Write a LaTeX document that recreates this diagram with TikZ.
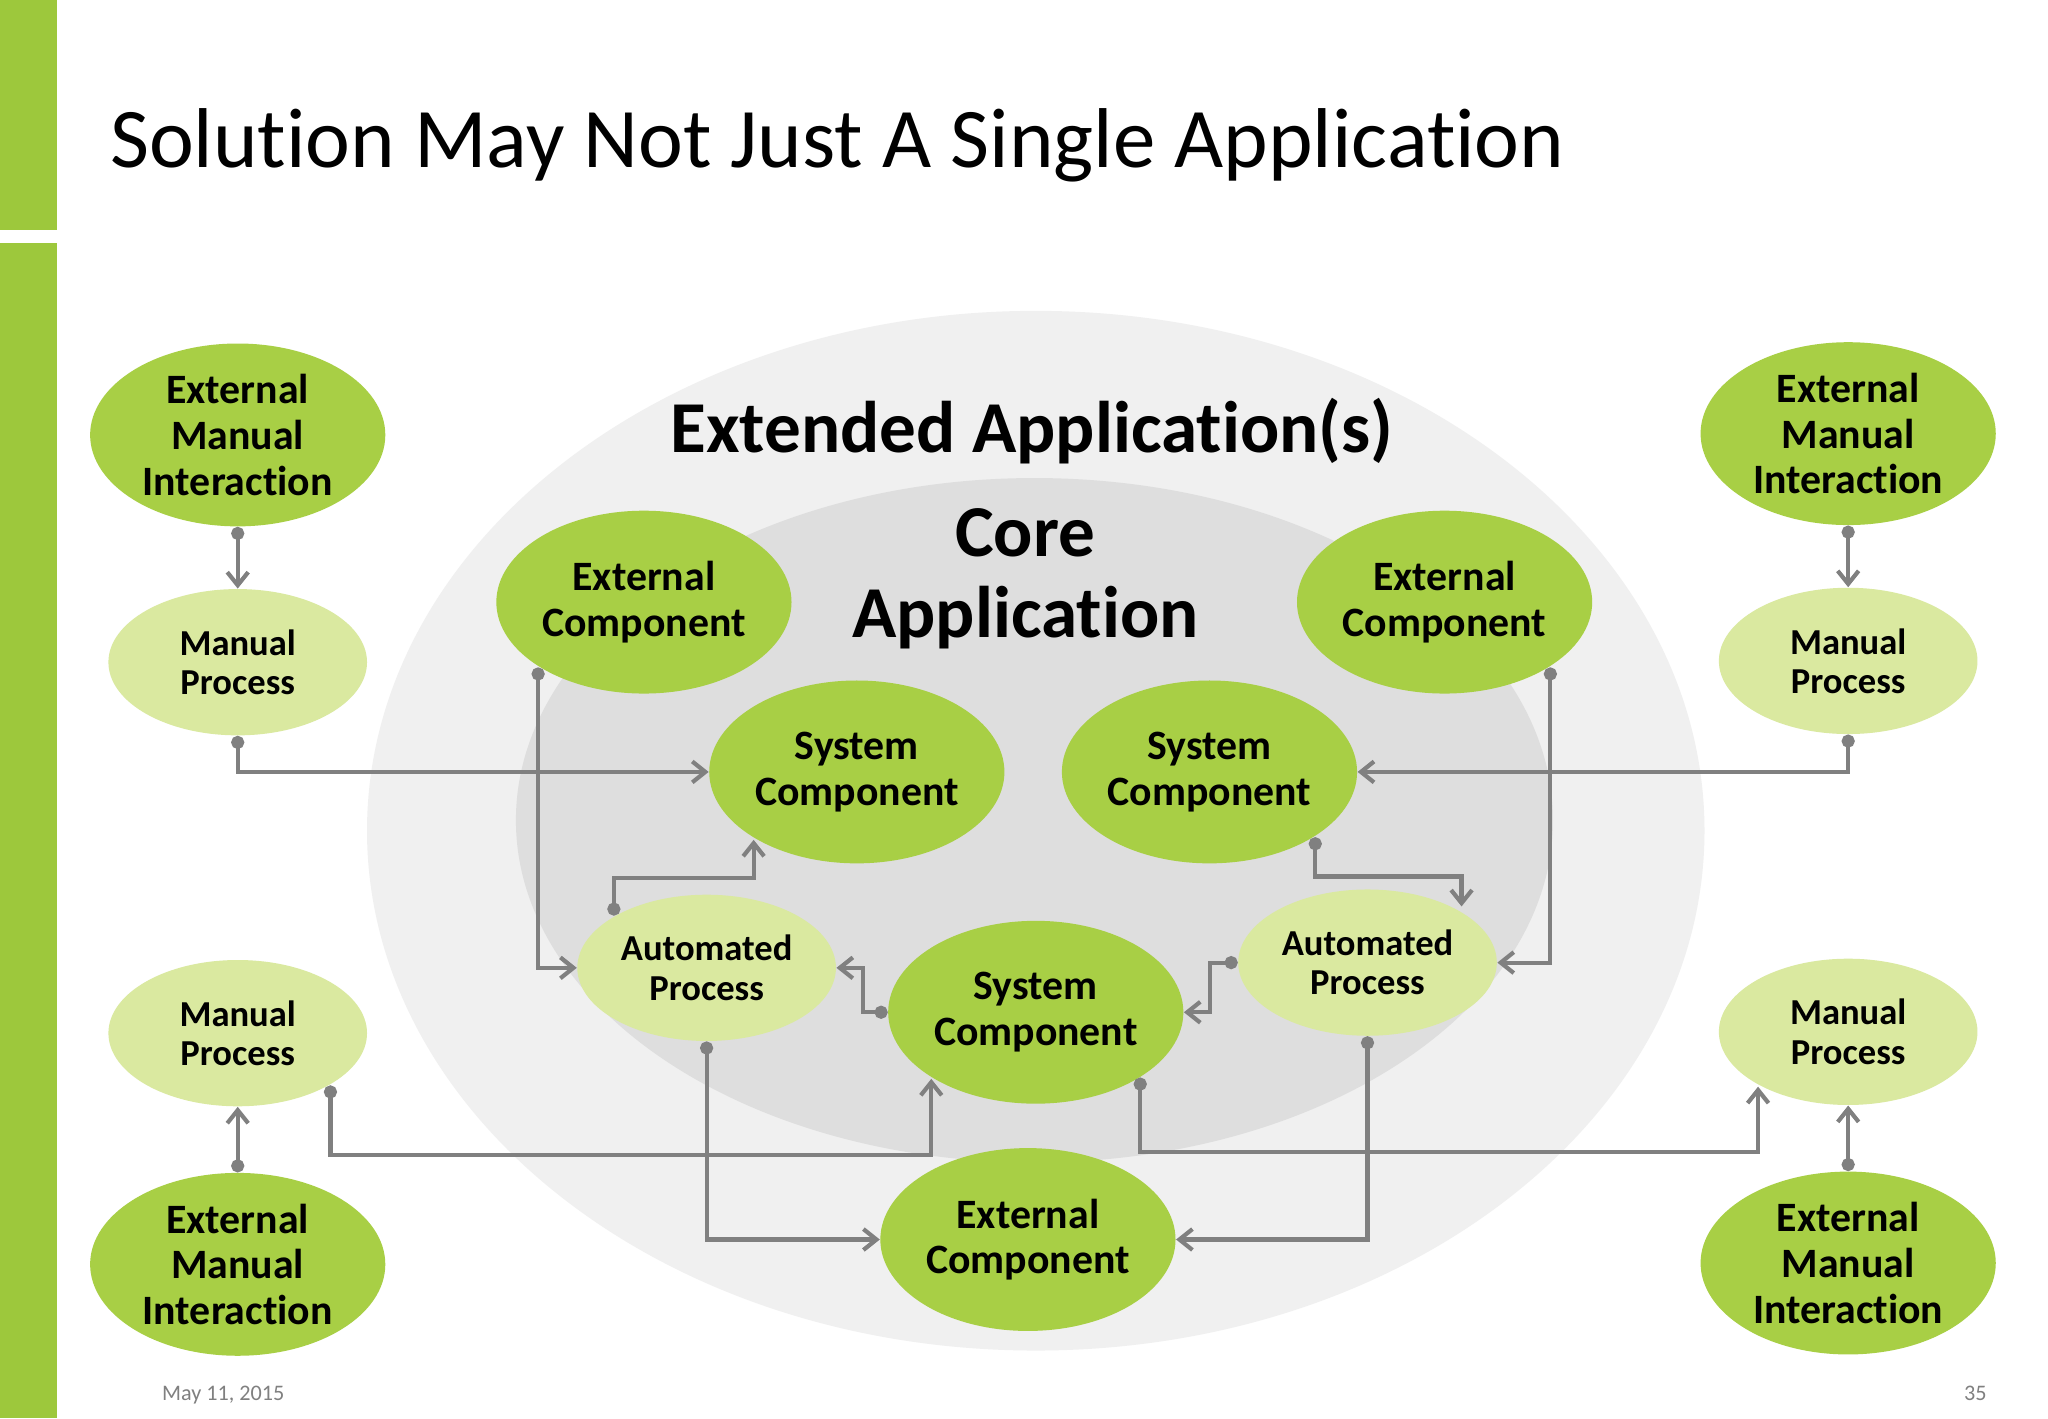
\documentclass[tikz,border=0pt]{standalone}
\usepackage{fontspec}
\setmainfont{Carlito}[RawFeature=-liga]
\usetikzlibrary{shapes.geometric,arrows.meta,calc}
\definecolor{bar}{RGB}{157,200,60}
\definecolor{dk}{RGB}{168,207,69}
\definecolor{lt}{RGB}{218,233,160}
\definecolor{ln}{RGB}{128,128,128}
\tikzset{
 big/.style={ellipse,fill=dk,minimum width=113pt,minimum height=70pt,inner sep=0pt,align=center,font=\fontsize{16}{17.5}\selectfont\bfseries},
 sm/.style={ellipse,fill=lt,minimum width=99pt,minimum height=56pt,inner sep=0pt,align=center,font=\fontsize{14}{15}\selectfont\bfseries},
 con/.style={draw=ln,line width=1.6pt,{Circle[length=5pt]}-{Straight Barb[length=5pt,width=8pt]}}
}
\begin{document}
\begin{tikzpicture}[x=0.5pt,y=-0.5pt]
\useasboundingbox (0,0) rectangle (1568,1086);
\fill[white] (0,0) rectangle (1568,1086);
\fill[bar] (0,0) rectangle (44,176);
\fill[bar] (0,186) rectangle (44,1086);
\node[anchor=base west,font=\fontsize{32.5}{36}\selectfont,inner sep=0] (title) at (84,128) {Solution May Not Just A Single Application};
\fill[black!6] (793,636) ellipse [x radius=512,y radius=398];
\fill[black!13] (792,628) ellipse [x radius=397,y radius=262];
\node[font=\fontsize{28}{30}\selectfont\bfseries] (ext) at (790,330) {Extended Application(s)};
\node[font=\fontsize{28}{31}\selectfont\bfseries,align=center] (core) at (785,443) {Core\\Application};
\node[big] (emitl) at (182,333) {External\\Manual\\Interaction};
\node[sm] (mptl) at (182,507) {Manual\\Process};
\node[big] (ecl) at (493,461) {External\\Component};
\node[big] (ecr) at (1106,461) {External\\Component};
\node[big] (emitr) at (1415,332) {External\\Manual\\Interaction};
\node[sm] (mptr) at (1415,506) {Manual\\Process};
\node[big] (sc1) at (656,591) {System\\Component};
\node[big] (sc2) at (926,591) {System\\Component};
\node[sm] (apl) at (541,741) {Automated\\Process};
\node[big] (sc3) at (793,775) {System\\Component};
\node[sm] (apr) at (1047,737) {Automated\\Process};
\node[sm] (mpbl) at (182,791) {Manual\\Process};
\node[big] (emibl) at (182,968) {External\\Manual\\Interaction};
\node[big] (ecb) at (787,949) {External\\Component};
\node[sm] (mpbr) at (1415,790) {Manual\\Process};
\node[big] (emibr) at (1415,967) {External\\Manual\\Interaction};
\node[font=\fontsize{8.5}{10}\selectfont,text=black!50,anchor=base west] (date) at (117,1072) {May 11, 2015};
\node[font=\fontsize{8.5}{10}\selectfont,text=black!50,anchor=base east] (pg) at (1528,1072) {35};
% connectors
\draw[con] (emitl.south) -- (mptl.north);
\draw[con] (mptl.south) |- (sc1.west);
\draw[con] ($(ecl)+(-81,50)$) |- (apl.west);
\draw[con] ($(apl)+(-71,-40)$) |- (577,672) -- ($(sc1)+(-79,52)$);
\draw[con] (sc3.west) -- ++(-19,0) |- (apl.east);
\draw[con] (apl.south) |- (ecb.west);
\draw[con] ($(mpbl)+(71,40)$) |- (713,884) -- ($(sc3)+(-80,51)$);
\draw[con] (emibl.north) -- (mpbl.south);
\draw[con] ($(sc2)+(81,50)$) |- (1119,671) -- ($(apr)+(72,-43)$);
\draw[con] ($(ecr)+(81,50)$) |- (apr.east);
\draw[con] (apr.west) -- ++(-21,0) |- (sc3.east);
\draw[con] (apr.south) |- (ecb.east);
\draw[con] ($(sc3)+(80,50)$) |- (1346,882) -- ($(mpbr)+(-69,42)$);
\draw[con] (mptr.south) |- (sc2.east);
\draw[con] (emitr.south) -- (mptr.north);
\draw[con] (emibr.north) -- (mpbr.south);
\end{tikzpicture}
\end{document}
